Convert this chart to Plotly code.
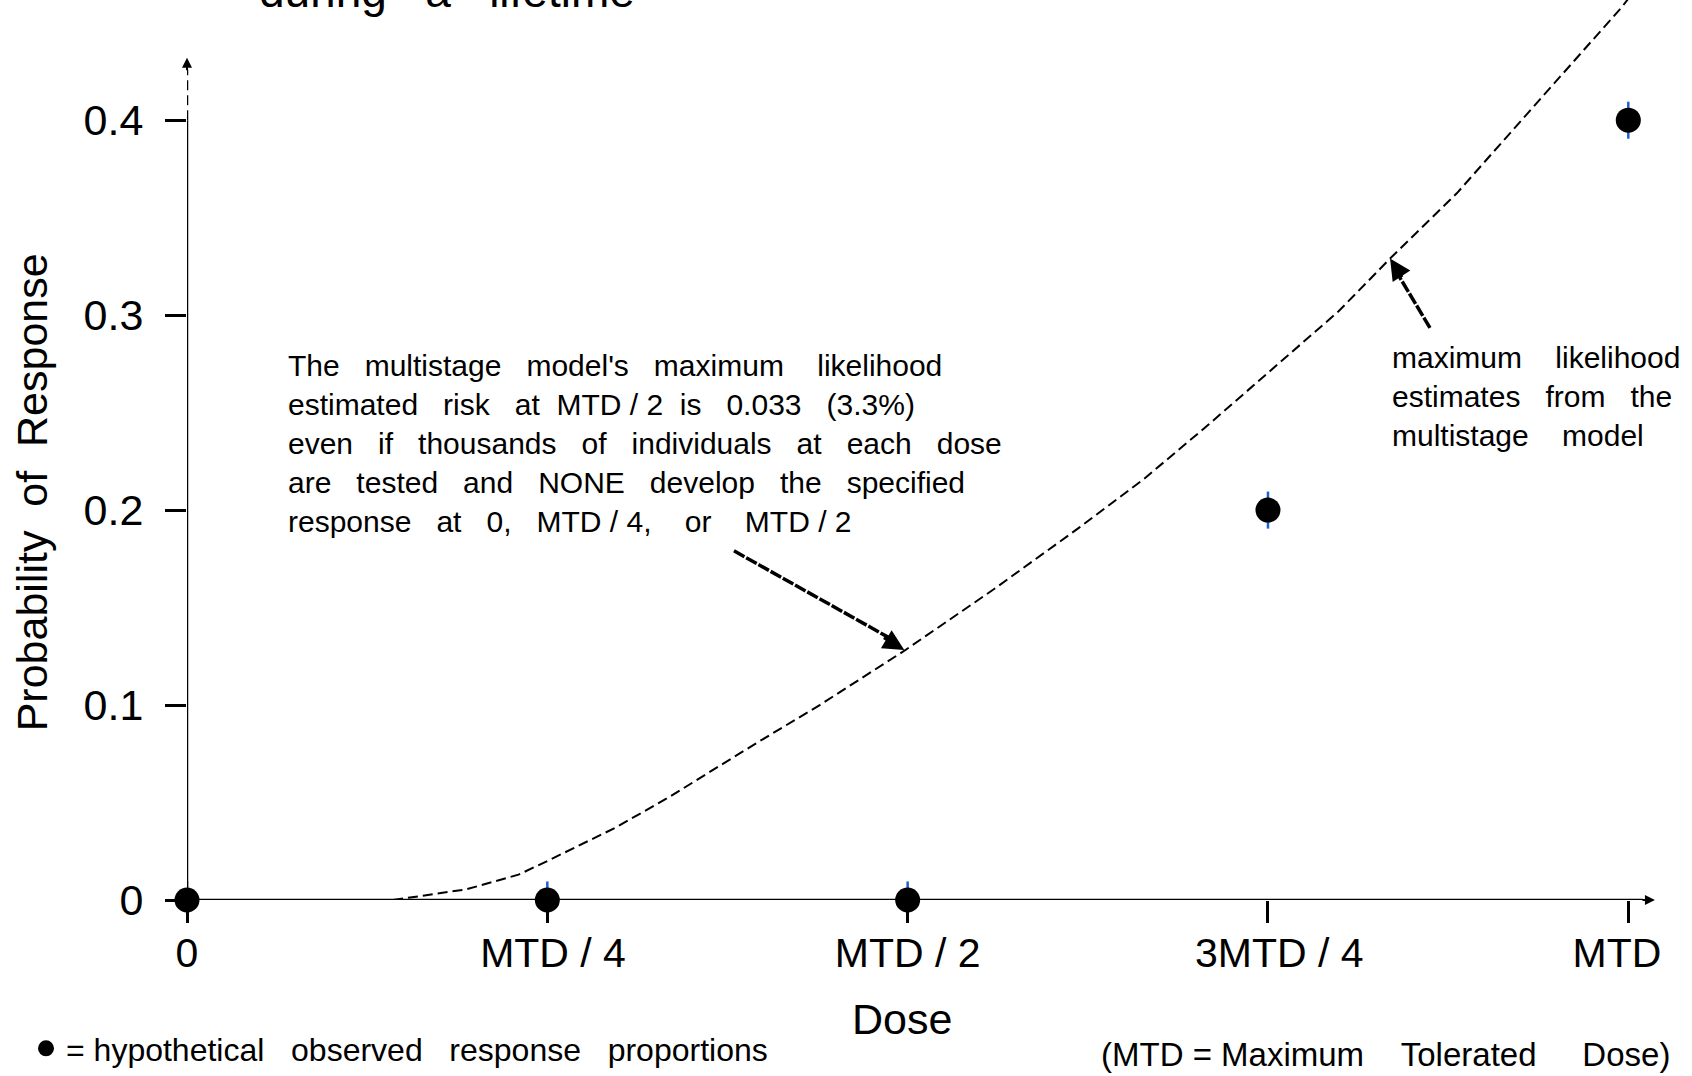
import plotly.graph_objects as go

# Dose levels, expressed as a fraction of the maximum tolerated dose (MTD)
dose_levels = [0.0, 0.25, 0.5, 0.75, 1.0]
dose_labels = ["0", "\u00a0MTD / 4", "MTD / 2", "\u00a0\u00a03MTD / 4", "MTD\u00a0\u00a0"]

# Hypothetical observed response proportions at each dose
observed_response = [0.0, 0.0, 0.0, 0.2, 0.4]
observed_spread = [0.0095, 0.0095, 0.0095, 0.0095, 0.0095]

# Multistage model: maximum likelihood estimates of the response probability
model_dose = [0.143, 0.194, 0.230, 0.250, 0.297, 0.335, 0.394, 0.439, 0.498,
              0.559, 0.619, 0.664, 0.709, 0.754, 0.799, 0.836, 0.881, 0.918,
              0.956, 0.9955, 1.0007]
model_response = [0.0, 0.0055, 0.013, 0.020, 0.037, 0.053, 0.080, 0.100, 0.128,
                  0.159, 0.191, 0.216, 0.244, 0.273, 0.302, 0.330, 0.3625, 0.3934,
                  0.4248, 0.458, 0.463]

prob_ticks = [0, 0.1, 0.2, 0.3, 0.4]
prob_labels = ["0", "0.1", "0.2", "0.3", "0.4"]

FONT = "Liberation Sans, Arial, sans-serif"
W, H = 1692, 1076
ML, MR, MT, MB = 187, 0, 0, 173
PX_PER_DOSE = 1441.3
PX_PER_PROB = 1956.0
plot_w = W - ML - MR
plot_h = H - MT - MB
x_max = plot_w / PX_PER_DOSE
y_max = plot_h / PX_PER_PROB

NB = "\u00a0"


def wide(text, n=3):
    """Widen the gaps between words (non-breaking spaces survive SVG)."""
    return text.replace(" ", " " + NB * (n - 1))


def gap(n):
    return " " + NB * (n - 1)


fig = go.Figure()

fig.add_trace(go.Scatter(
    x=model_dose, y=model_response, mode="lines",
    line=dict(color="black", width=2, dash="10px,5px"),
    showlegend=False, hoverinfo="skip",
))

fig.add_trace(go.Scatter(
    x=dose_levels, y=observed_response, mode="markers",
    marker=dict(color="black", size=25),
    error_y=dict(type="data", array=observed_spread, color="#1f5fd0",
                 thickness=2.5, width=0),
    cliponaxis=False,
    name="= " + wide("hypothetical observed response proportions"),
    showlegend=True,
))

# Axis lines with arrow ends
axis_w = 2.5
shapes = [
    dict(type="line", xref="x", yref="y", x0=0, y0=0, x1=1.0102, y1=0,
         line=dict(color="black", width=axis_w)),
    dict(type="line", xref="x", yref="y", x0=0, y0=0, x1=0, y1=0.4,
         line=dict(color="black", width=axis_w)),
    dict(type="line", xref="x", yref="y", x0=0, y0=0.4, x1=0, y1=0.426,
         line=dict(color="black", width=axis_w, dash="10px,5px")),
    # pointer lines of the two callouts
    dict(type="line", xref="x", yref="y", x0=0.3795, y0=0.1791, x1=0.487, y1=0.1346,
         line=dict(color="black", width=3.5, dash="12px,2px")),
    dict(type="line", xref="x", yref="y", x0=0.8624, y0=0.2935, x1=0.8405, y1=0.3205,
         line=dict(color="black", width=3.5, dash="12px,2px")),
]

annotations = [
    # arrow heads
    dict(x=1.0185, y=0, xref="x", yref="y", ax=-14, ay=0, text="",
         showarrow=True, arrowhead=2, arrowsize=1, arrowwidth=2, arrowcolor="black"),
    dict(x=0, y=0.432, xref="x", yref="y", ax=0, ay=14, text="",
         showarrow=True, arrowhead=2, arrowsize=1, arrowwidth=2, arrowcolor="black"),
    dict(x=0.4977, y=0.1283, xref="x", yref="y", ax=-22, ay=-13, text="",
         showarrow=True, arrowhead=2, arrowsize=1.4, arrowwidth=3, arrowcolor="black"),
    dict(x=0.8347, y=0.329, xref="x", yref="y", ax=13, ay=20, text="",
         showarrow=True, arrowhead=2, arrowsize=1.4, arrowwidth=3, arrowcolor="black"),
    # callout texts
    dict(x=0.0687, y=0.2342, xref="x", yref="y", xanchor="left", yanchor="middle",
         align="left", showarrow=False, font=dict(size=30),
         text="<br>".join([
             wide("The multistage model's maximum") + gap(4) + "likelihood",
             wide("estimated risk at") + gap(2) + "MTD / 2" + gap(2) + wide("is 0.033 (3.3%)"),
             wide("even if thousands of individuals at each dose"),
             wide("are tested and NONE develop the specified"),
             wide("response at 0,") + gap(3) + "MTD / 4," + gap(4) + "or" + gap(4) + "MTD / 2",
         ])),
    dict(x=0.8347, y=0.2582, xref="x", yref="y", xanchor="left", yanchor="middle",
         align="left", showarrow=False, font=dict(size=30),
         text="<br>".join([
             wide("maximum likelihood", 4),
             wide("estimates from the", 3),
             wide("multistage model", 4),
         ])),
    # axis titles
    dict(x=(902 - ML) / plot_w, y=(plot_h - 1022) / plot_h, xref="paper", yref="paper",
         xanchor="center", yanchor="middle", showarrow=False, text="Dose",
         font=dict(size=43)),
    dict(x=(32 - ML) / plot_w, y=(plot_h - 494) / plot_h, xref="paper", yref="paper",
         xanchor="center", yanchor="middle", showarrow=False, textangle=-90,
         text=wide("Probability of Response", 2), font=dict(size=43)),
    # footnote
    dict(x=(1099 - ML) / plot_w, y=(plot_h - 1058) / plot_h, xref="paper", yref="paper",
         xanchor="left", yanchor="middle", showarrow=False, font=dict(size=33),
         text="(MTD = Maximum" + gap(4) + "Tolerated" + gap(5) + "Dose)"),
    # heading (runs off the top of the page)
    dict(x=(447 - ML) / plot_w, y=1, xref="paper", yref="paper",
         xanchor="center", yanchor="bottom", yshift=-19, showarrow=False,
         text=wide("during a lifetime"), font=dict(size=46)),
]

fig.update_layout(
    width=W, height=H,
    margin=dict(l=ML, r=MR, t=MT, b=MB, pad=0),
    paper_bgcolor="white", plot_bgcolor="white",
    font=dict(family=FONT, color="black"),
    shapes=shapes, annotations=annotations,
    showlegend=True,
    legend=dict(x=(26 - ML) / plot_w, y=(plot_h - 1052) / plot_h,
                xanchor="left", yanchor="middle", font=dict(size=32),
                bgcolor="rgba(0,0,0,0)", itemsizing="trace"),
    xaxis=dict(range=[0, x_max], showgrid=False, zeroline=False, showline=False,
               tickvals=dose_levels, ticktext=dose_labels, ticks="outside",
               ticklen=22, tickwidth=2.5, tickcolor="black",
               tickfont=dict(size=41), ticklabelstandoff=-5),
    yaxis=dict(range=[0, y_max], showgrid=False, zeroline=False, showline=False,
               tickvals=prob_ticks, ticktext=prob_labels, ticks="outside",
               ticklen=21, tickwidth=2.5, tickcolor="black",
               tickfont=dict(size=43), ticklabelstandoff=13),
)

fig.write_html("out.html")
